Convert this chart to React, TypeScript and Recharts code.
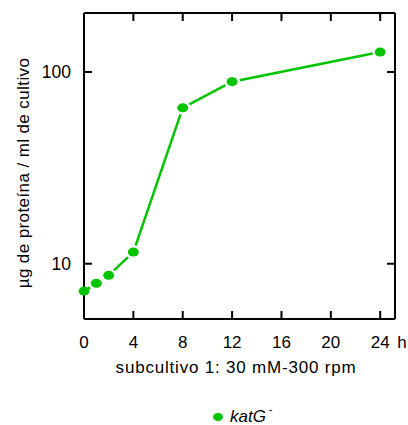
import React from "react";
import { LineChart, Line, XAxis, YAxis, Legend } from "recharts";

const hours = [0, 1, 2, 4, 8, 12, 24];
const katG = [7.2, 7.9, 8.7, 11.5, 65, 89, 127];
const xTicks = [0, 4, 8, 12, 16, 20, 24];
const yTicks = [10, 100];

const GREEN = "#00c400";
const FONT = "'Liberation Sans', Arial, sans-serif";

const data = hours.map((h, i) => ({ h, katG: katG[i] }));

function BottomTick(props: any) {
  const { x, y, payload } = props;
  return (
    <g>
      <line x1={x} y1={y} x2={x} y2={y - 8} stroke="#000" strokeWidth={2} />
      <text x={x} y={y + 29} textAnchor="middle" fontSize={17} fill="#000" fontFamily={FONT}>
        {payload.value}
      </text>
      {payload.value === 24 && (
        <text x={x + 17} y={y + 29} fontSize={17} fill="#000" fontFamily={FONT}>
          h
        </text>
      )}
    </g>
  );
}

function TopTick(props: any) {
  const { x, y } = props;
  return <line x1={x} y1={y} x2={x} y2={y + 8} stroke="#000" strokeWidth={2} />;
}

function LeftTick(props: any) {
  const { x, y, payload } = props;
  return (
    <g>
      <line x1={x} y1={y} x2={x + 8} y2={y} stroke="#000" strokeWidth={2} />
      <text x={x - 13} y={y + 6} textAnchor="end" fontSize={17.5} fill="#000" fontFamily={FONT}>
        {payload.value}
      </text>
    </g>
  );
}

function RightTick(props: any) {
  const { x, y } = props;
  return <line x1={x} y1={y} x2={x - 8} y2={y} stroke="#000" strokeWidth={2} />;
}

// gnuplot-like point: a small white gap separates the line from each marker
function Dot(props: any) {
  const { cx, cy, index } = props;
  if (cx == null || cy == null) return null;
  return (
    <g>
      {index > 0 && <ellipse cx={cx} cy={cy} rx={8} ry={7} fill="#fff" />}
      <ellipse cx={cx} cy={cy} rx={5.5} ry={4.5} fill={GREEN} />
    </g>
  );
}

function YTitle() {
  return (
    <text
      x={29}
      y={173}
      transform="rotate(-90, 29, 173)"
      textAnchor="middle"
      fontSize={17}
      letterSpacing={0.4}
      fill="#000"
      fontFamily={FONT}
    >
      µg de proteína / ml de cultivo
    </text>
  );
}

function XTitle() {
  return (
    <text
      x={236}
      y={373}
      textAnchor="middle"
      fontSize={17}
      letterSpacing={0.8}
      fill="#000"
      fontFamily={FONT}
    >
      subcultivo 1: 30 mM-300 rpm
    </text>
  );
}

function KeyBox() {
  return (
    <div style={{ fontFamily: FONT, fontSize: 17, display: "flex", alignItems: "center" }}>
      <svg width={12} height={10} style={{ marginRight: 6 }}>
        <ellipse cx={6} cy={5} rx={5} ry={4} fill={GREEN} />
      </svg>
      <span style={{ fontStyle: "italic" }}>katG</span>
      <span style={{ fontSize: 10, marginLeft: 3, position: "relative", top: -8 }}>-</span>
    </div>
  );
}

export default function App() {
  return (
    <div style={{ position: "absolute", left: 0, top: 0, background: "#fff" }}>
      <LineChart
        width={408}
        height={425}
        data={data}
        margin={{ top: 12, right: 12, left: 0, bottom: 0 }}
      >
        <XAxis
          dataKey="h"
          type="number"
          domain={[0, 25.2]}
          ticks={xTicks}
          tick={<BottomTick />}
          tickSize={0}
          tickMargin={0}
          tickLine={false}
          height={106}
          axisLine={{ stroke: "#000", strokeWidth: 2 }}
          label={{ content: <XTitle /> }}
        />
        <XAxis
          xAxisId="top"
          orientation="top"
          dataKey="h"
          type="number"
          domain={[0, 25.2]}
          allowDataOverflow
          ticks={xTicks}
          tick={<TopTick />}
          tickSize={0}
          tickMargin={0}
          tickLine={false}
          height={1}
          axisLine={{ stroke: "#000", strokeWidth: 2 }}
        />
        <YAxis
          dataKey="katG"
          scale="log"
          domain={[5.15, 203]}
          ticks={yTicks}
          tick={<LeftTick />}
          tickSize={0}
          tickMargin={0}
          tickLine={false}
          width={84}
          axisLine={{ stroke: "#000", strokeWidth: 2 }}
          label={{ content: <YTitle /> }}
        />
        <YAxis
          yAxisId="right"
          orientation="right"
          dataKey="katG"
          scale="log"
          domain={[5.15, 203]}
          allowDataOverflow
          ticks={yTicks}
          tick={<RightTick />}
          tickSize={0}
          tickMargin={0}
          tickLine={false}
          width={1}
          axisLine={{ stroke: "#000", strokeWidth: 2 }}
        />
        <Legend
          layout="horizontal"
          verticalAlign="middle"
          align="center"
          content={<KeyBox />}
          wrapperStyle={{ top: 407, left: 212, width: 80 }}
        />
        <Line
          type="linear"
          dataKey="katG"
          stroke={GREEN}
          strokeWidth={2.5}
          dot={<Dot />}
          activeDot={false}
          isAnimationActive={false}
        />
      </LineChart>
    </div>
  );
}
